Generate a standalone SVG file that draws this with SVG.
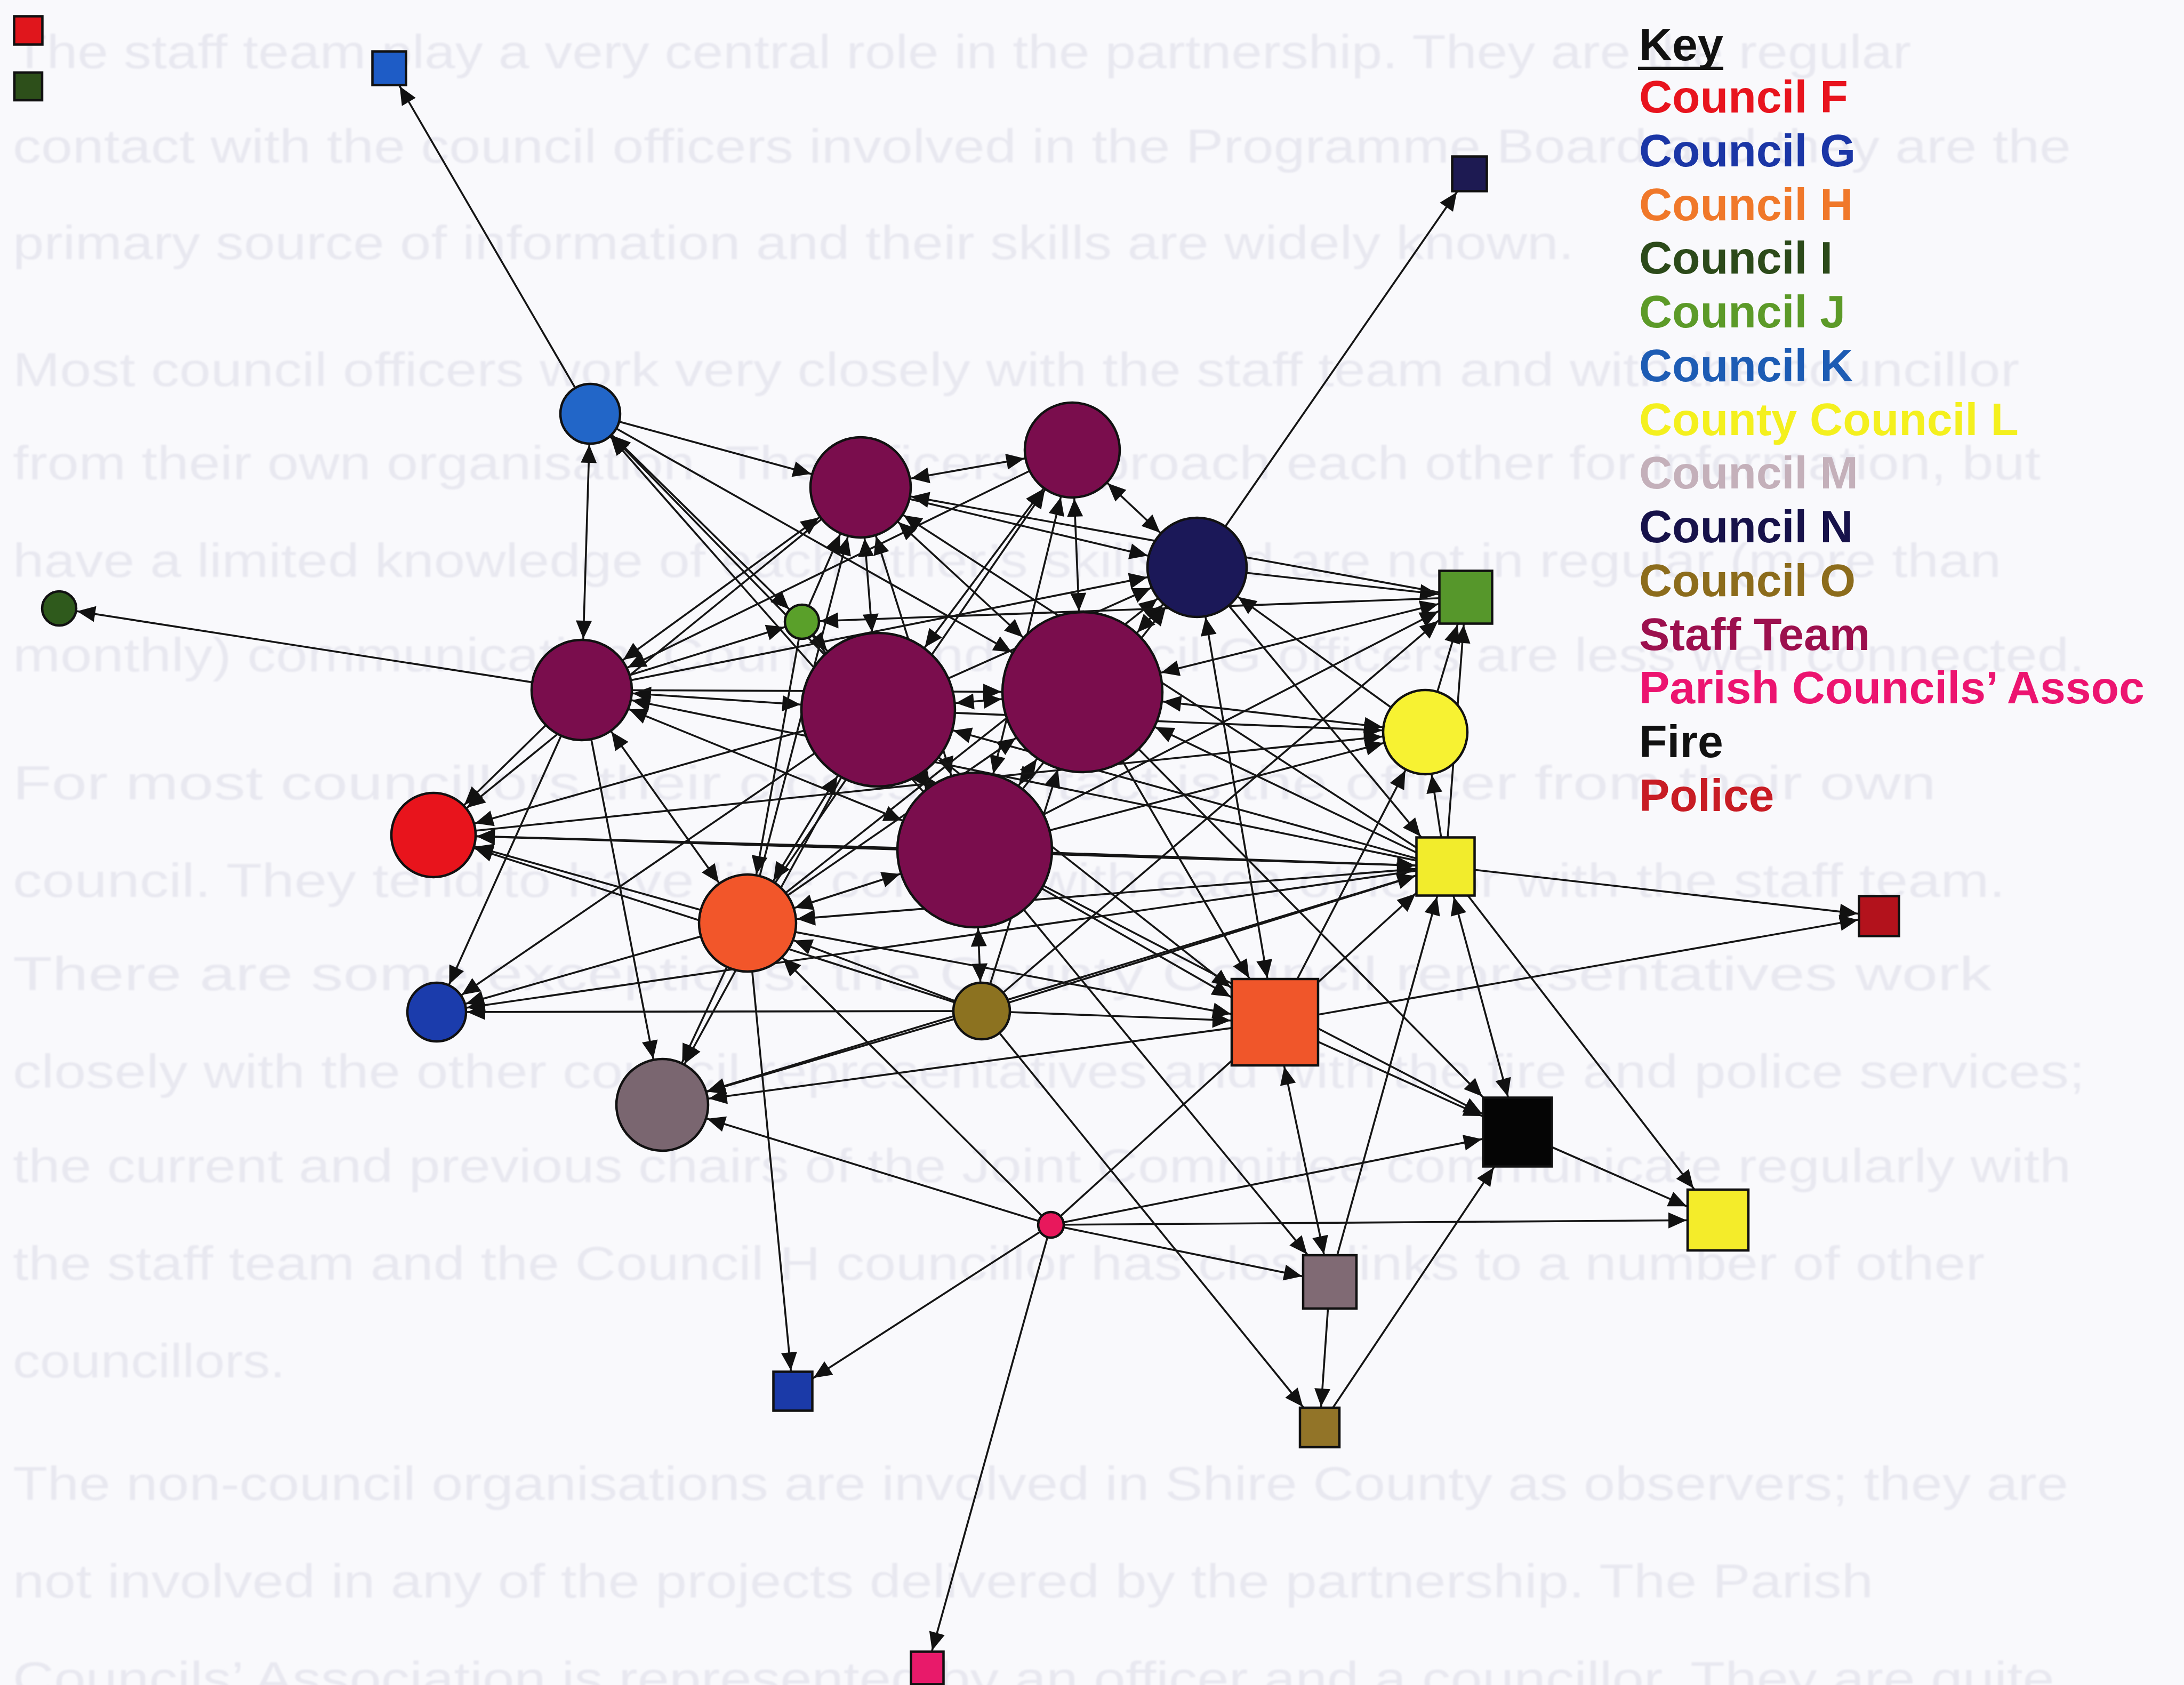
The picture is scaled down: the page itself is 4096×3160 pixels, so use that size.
<svg xmlns="http://www.w3.org/2000/svg" xmlns:xlink="http://www.w3.org/1999/xlink" width="4096" height="3160" viewBox="0 0 4096 3160">
  <style>
    .ghost { font-family: "Liberation Sans", Arial, sans-serif; font-size: 89px; fill: #e8e8f0; }
    .e { stroke: #151515; stroke-width: 3.6; fill: none; }
    .n { stroke: #111; stroke-width: 4.5; }
    .staff { fill: #7a0d4d; }
    .key { font-family: "Liberation Sans", Arial, sans-serif; font-size: 86px; font-weight: bold; }
  </style>
  <defs>
    <filter id="soft" x="-2%" y="-20%" width="104%" height="140%"><feGaussianBlur stdDeviation="1.6"/></filter>
    <path id="ah" d="M0,0 L34,15 L0,30 Z" fill="#111"/>
    <marker id="m34" markerUnits="userSpaceOnUse" markerWidth="34" markerHeight="30" refX="68" refY="15" orient="auto-start-reverse" overflow="visible"><use href="#ah"/></marker>
    <marker id="m39" markerUnits="userSpaceOnUse" markerWidth="34" markerHeight="30" refX="73" refY="15" orient="auto-start-reverse" overflow="visible"><use href="#ah"/></marker>
    <marker id="m40" markerUnits="userSpaceOnUse" markerWidth="34" markerHeight="30" refX="74" refY="15" orient="auto-start-reverse" overflow="visible"><use href="#ah"/></marker>
    <marker id="m42" markerUnits="userSpaceOnUse" markerWidth="34" markerHeight="30" refX="76" refY="15" orient="auto-start-reverse" overflow="visible"><use href="#ah"/></marker>
    <marker id="m46" markerUnits="userSpaceOnUse" markerWidth="34" markerHeight="30" refX="80" refY="15" orient="auto-start-reverse" overflow="visible"><use href="#ah"/></marker>
    <marker id="m50" markerUnits="userSpaceOnUse" markerWidth="34" markerHeight="30" refX="84" refY="15" orient="auto-start-reverse" overflow="visible"><use href="#ah"/></marker>
    <marker id="m52" markerUnits="userSpaceOnUse" markerWidth="34" markerHeight="30" refX="86" refY="15" orient="auto-start-reverse" overflow="visible"><use href="#ah"/></marker>
    <marker id="m53" markerUnits="userSpaceOnUse" markerWidth="34" markerHeight="30" refX="87" refY="15" orient="auto-start-reverse" overflow="visible"><use href="#ah"/></marker>
    <marker id="m54" markerUnits="userSpaceOnUse" markerWidth="34" markerHeight="30" refX="88" refY="15" orient="auto-start-reverse" overflow="visible"><use href="#ah"/></marker>
    <marker id="m55" markerUnits="userSpaceOnUse" markerWidth="34" markerHeight="30" refX="89" refY="15" orient="auto-start-reverse" overflow="visible"><use href="#ah"/></marker>
    <marker id="m57" markerUnits="userSpaceOnUse" markerWidth="34" markerHeight="30" refX="91" refY="15" orient="auto-start-reverse" overflow="visible"><use href="#ah"/></marker>
    <marker id="m58" markerUnits="userSpaceOnUse" markerWidth="34" markerHeight="30" refX="92" refY="15" orient="auto-start-reverse" overflow="visible"><use href="#ah"/></marker>
    <marker id="m59" markerUnits="userSpaceOnUse" markerWidth="34" markerHeight="30" refX="93" refY="15" orient="auto-start-reverse" overflow="visible"><use href="#ah"/></marker>
    <marker id="m64" markerUnits="userSpaceOnUse" markerWidth="34" markerHeight="30" refX="98" refY="15" orient="auto-start-reverse" overflow="visible"><use href="#ah"/></marker>
    <marker id="m67" markerUnits="userSpaceOnUse" markerWidth="34" markerHeight="30" refX="101" refY="15" orient="auto-start-reverse" overflow="visible"><use href="#ah"/></marker>
    <marker id="m68" markerUnits="userSpaceOnUse" markerWidth="34" markerHeight="30" refX="102" refY="15" orient="auto-start-reverse" overflow="visible"><use href="#ah"/></marker>
    <marker id="m69" markerUnits="userSpaceOnUse" markerWidth="34" markerHeight="30" refX="103" refY="15" orient="auto-start-reverse" overflow="visible"><use href="#ah"/></marker>
    <marker id="m73" markerUnits="userSpaceOnUse" markerWidth="34" markerHeight="30" refX="107" refY="15" orient="auto-start-reverse" overflow="visible"><use href="#ah"/></marker>
    <marker id="m75" markerUnits="userSpaceOnUse" markerWidth="34" markerHeight="30" refX="109" refY="15" orient="auto-start-reverse" overflow="visible"><use href="#ah"/></marker>
    <marker id="m76" markerUnits="userSpaceOnUse" markerWidth="34" markerHeight="30" refX="110" refY="15" orient="auto-start-reverse" overflow="visible"><use href="#ah"/></marker>
    <marker id="m80" markerUnits="userSpaceOnUse" markerWidth="34" markerHeight="30" refX="114" refY="15" orient="auto-start-reverse" overflow="visible"><use href="#ah"/></marker>
    <marker id="m81" markerUnits="userSpaceOnUse" markerWidth="34" markerHeight="30" refX="115" refY="15" orient="auto-start-reverse" overflow="visible"><use href="#ah"/></marker>
    <marker id="m83" markerUnits="userSpaceOnUse" markerWidth="34" markerHeight="30" refX="117" refY="15" orient="auto-start-reverse" overflow="visible"><use href="#ah"/></marker>
    <marker id="m84" markerUnits="userSpaceOnUse" markerWidth="34" markerHeight="30" refX="118" refY="15" orient="auto-start-reverse" overflow="visible"><use href="#ah"/></marker>
    <marker id="m85" markerUnits="userSpaceOnUse" markerWidth="34" markerHeight="30" refX="119" refY="15" orient="auto-start-reverse" overflow="visible"><use href="#ah"/></marker>
    <marker id="m88" markerUnits="userSpaceOnUse" markerWidth="34" markerHeight="30" refX="122" refY="15" orient="auto-start-reverse" overflow="visible"><use href="#ah"/></marker>
    <marker id="m91" markerUnits="userSpaceOnUse" markerWidth="34" markerHeight="30" refX="125" refY="15" orient="auto-start-reverse" overflow="visible"><use href="#ah"/></marker>
    <marker id="m93" markerUnits="userSpaceOnUse" markerWidth="34" markerHeight="30" refX="127" refY="15" orient="auto-start-reverse" overflow="visible"><use href="#ah"/></marker>
    <marker id="m94" markerUnits="userSpaceOnUse" markerWidth="34" markerHeight="30" refX="128" refY="15" orient="auto-start-reverse" overflow="visible"><use href="#ah"/></marker>
    <marker id="m95" markerUnits="userSpaceOnUse" markerWidth="34" markerHeight="30" refX="129" refY="15" orient="auto-start-reverse" overflow="visible"><use href="#ah"/></marker>
    <marker id="m96" markerUnits="userSpaceOnUse" markerWidth="34" markerHeight="30" refX="130" refY="15" orient="auto-start-reverse" overflow="visible"><use href="#ah"/></marker>
    <marker id="m106" markerUnits="userSpaceOnUse" markerWidth="34" markerHeight="30" refX="140" refY="15" orient="auto-start-reverse" overflow="visible"><use href="#ah"/></marker>
    <marker id="m146" markerUnits="userSpaceOnUse" markerWidth="34" markerHeight="30" refX="180" refY="15" orient="auto-start-reverse" overflow="visible"><use href="#ah"/></marker>
    <marker id="m147" markerUnits="userSpaceOnUse" markerWidth="34" markerHeight="30" refX="181" refY="15" orient="auto-start-reverse" overflow="visible"><use href="#ah"/></marker>
    <marker id="m152" markerUnits="userSpaceOnUse" markerWidth="34" markerHeight="30" refX="186" refY="15" orient="auto-start-reverse" overflow="visible"><use href="#ah"/></marker>
  </defs>

  <rect width="4096" height="3160" fill="#f9f9fc"/>

  <!-- faint page text behind the network -->
  <g id="page-text" class="ghost" filter="url(#soft)">
    <text x="24" y="128" textLength="3560" lengthAdjust="spacingAndGlyphs">The staff team play a very central role in the partnership. They are the regular</text>
    <text x="24" y="305" textLength="3860" lengthAdjust="spacingAndGlyphs">contact with the council officers involved in the Programme Board and they are the</text>
    <text x="24" y="486" textLength="2928" lengthAdjust="spacingAndGlyphs">primary source of information and their skills are widely known.</text>
    <text x="24" y="724" textLength="3763" lengthAdjust="spacingAndGlyphs">Most council officers work very closely with the staff team and with the councillor</text>
    <text x="24" y="899" textLength="3803" lengthAdjust="spacingAndGlyphs">from their own organisation. The officers approach each other for information, but</text>
    <text x="24" y="1082" textLength="3729" lengthAdjust="spacingAndGlyphs">have a limited knowledge of each other’s skills and are not in regular (more than</text>
    <text x="24" y="1259" textLength="3886" lengthAdjust="spacingAndGlyphs">monthly) communication. Council I and Council G officers are less well connected.</text>
    <text x="24" y="1499" textLength="3607" lengthAdjust="spacingAndGlyphs">For most councillors their closest contact is the officer from their own</text>
    <text x="24" y="1682" textLength="3737" lengthAdjust="spacingAndGlyphs">council. They tend to have little contact with each other or with the staff team.</text>
    <text x="24" y="1857" textLength="3711" lengthAdjust="spacingAndGlyphs">There are some exceptions: the County Council representatives work</text>
    <text x="24" y="2040" textLength="3886" lengthAdjust="spacingAndGlyphs">closely with the other council representatives and with the fire and police services;</text>
    <text x="24" y="2217" textLength="3860" lengthAdjust="spacingAndGlyphs">the current and previous chairs of the Joint Committee communicate regularly with</text>
    <text x="24" y="2400" textLength="3698" lengthAdjust="spacingAndGlyphs">the staff team and the Council H councillor has close links to a number of other</text>
    <text x="24" y="2583" textLength="511" lengthAdjust="spacingAndGlyphs">councillors.</text>
    <text x="24" y="2813" textLength="3855" lengthAdjust="spacingAndGlyphs">The non-council organisations are involved in Shire County as observers; they are</text>
    <text x="24" y="2996" textLength="3489" lengthAdjust="spacingAndGlyphs">not involved in any of the projects delivered by the partnership. The Parish</text>
    <text x="24" y="3179" textLength="3829" lengthAdjust="spacingAndGlyphs">Councils’ Association is represented by an officer and a councillor. They are quite</text>
  </g>

  <!-- directed links; lines run centre to centre, arrowheads are pulled back to each node edge -->
  <g id="connectors" class="e">
    <line x1="1107" y1="776" x2="730" y2="128" marker-end="url(#m39)"/>
    <line x1="2245" y1="1064" x2="2756" y2="326" marker-end="url(#m42)"/>
    <line x1="1091" y1="1294" x2="111" y2="1141" marker-end="url(#m34)"/>
    <line x1="1107" y1="776" x2="1614" y2="914" marker-end="url(#m96)"/>
    <line x1="1107" y1="776" x2="1091" y2="1294" marker-start="url(#m58)" marker-end="url(#m96)"/>
    <line x1="1647" y1="1331" x2="1107" y2="776" marker-end="url(#m58)"/>
    <line x1="1828" y1="1594" x2="1107" y2="776" marker-end="url(#m58)"/>
    <line x1="1107" y1="776" x2="2030" y2="1298" marker-end="url(#m152)"/>
    <line x1="1107" y1="776" x2="1504" y2="1166" marker-start="url(#m58)" marker-end="url(#m34)"/>
    <line x1="1614" y1="914" x2="2011" y2="844" marker-start="url(#m96)" marker-end="url(#m91)"/>
    <line x1="1614" y1="914" x2="1091" y2="1294" marker-start="url(#m96)" marker-end="url(#m96)"/>
    <line x1="1614" y1="914" x2="1647" y2="1331" marker-start="url(#m96)" marker-end="url(#m146)"/>
    <line x1="1614" y1="914" x2="2030" y2="1298" marker-start="url(#m96)" marker-end="url(#m152)"/>
    <line x1="1614" y1="914" x2="1828" y2="1594" marker-start="url(#m96)" marker-end="url(#m147)"/>
    <line x1="2011" y1="844" x2="1647" y2="1331" marker-start="url(#m91)" marker-end="url(#m146)"/>
    <line x1="2011" y1="844" x2="2030" y2="1298" marker-start="url(#m91)" marker-end="url(#m152)"/>
    <line x1="2011" y1="844" x2="1828" y2="1594" marker-start="url(#m91)" marker-end="url(#m147)"/>
    <line x1="2011" y1="844" x2="1091" y2="1294" marker-end="url(#m96)"/>
    <line x1="1091" y1="1294" x2="1647" y2="1331" marker-start="url(#m96)" marker-end="url(#m146)"/>
    <line x1="1091" y1="1294" x2="2030" y2="1298" marker-end="url(#m152)"/>
    <line x1="1091" y1="1294" x2="1828" y2="1594" marker-start="url(#m96)" marker-end="url(#m147)"/>
    <line x1="1647" y1="1331" x2="2030" y2="1298" marker-start="url(#m146)" marker-end="url(#m152)"/>
    <line x1="1647" y1="1331" x2="1828" y2="1594" marker-start="url(#m146)" marker-end="url(#m147)"/>
    <line x1="2030" y1="1298" x2="1828" y2="1594" marker-start="url(#m152)" marker-end="url(#m147)"/>
    <line x1="2245" y1="1064" x2="2011" y2="844" marker-start="url(#m95)" marker-end="url(#m91)"/>
    <line x1="1614" y1="914" x2="2245" y2="1064" marker-end="url(#m95)"/>
    <line x1="2030" y1="1298" x2="2245" y2="1064" marker-start="url(#m152)" marker-end="url(#m95)"/>
    <line x1="1647" y1="1331" x2="2245" y2="1064" marker-end="url(#m95)"/>
    <line x1="1828" y1="1594" x2="2245" y2="1064" marker-end="url(#m95)"/>
    <line x1="1402" y1="1731" x2="2245" y2="1064" marker-end="url(#m95)"/>
    <line x1="1091" y1="1294" x2="2245" y2="1064" marker-end="url(#m95)"/>
    <line x1="2245" y1="1064" x2="2391" y2="1917" marker-start="url(#m95)" marker-end="url(#m84)"/>
    <line x1="2673" y1="1373" x2="2245" y2="1064" marker-end="url(#m95)"/>
    <line x1="2245" y1="1064" x2="2749" y2="1120" marker-end="url(#m52)"/>
    <line x1="2030" y1="1298" x2="2749" y2="1120" marker-start="url(#m152)" marker-end="url(#m53)"/>
    <line x1="1828" y1="1594" x2="2749" y2="1120" marker-end="url(#m58)"/>
    <line x1="1841" y1="1896" x2="2749" y2="1120" marker-end="url(#m68)"/>
    <line x1="2749" y1="1120" x2="1614" y2="914" marker-end="url(#m96)"/>
    <line x1="2749" y1="1120" x2="1504" y2="1166" marker-end="url(#m34)"/>
    <line x1="2673" y1="1373" x2="2749" y2="1120" marker-end="url(#m54)"/>
    <line x1="2711" y1="1625" x2="2749" y2="1120" marker-end="url(#m52)"/>
    <line x1="2711" y1="1625" x2="2673" y2="1373" marker-end="url(#m81)"/>
    <line x1="2391" y1="1917" x2="2673" y2="1373" marker-end="url(#m81)"/>
    <line x1="2030" y1="1298" x2="2673" y2="1373" marker-start="url(#m152)" marker-end="url(#m81)"/>
    <line x1="1647" y1="1331" x2="2673" y2="1373" marker-end="url(#m81)"/>
    <line x1="1828" y1="1594" x2="2673" y2="1373" marker-end="url(#m81)"/>
    <line x1="813" y1="1566" x2="2673" y2="1373" marker-end="url(#m81)"/>
    <line x1="2711" y1="1625" x2="813" y2="1566" marker-end="url(#m81)"/>
    <line x1="2711" y1="1625" x2="3524" y2="1718" marker-end="url(#m40)"/>
    <line x1="2391" y1="1917" x2="3524" y2="1718" marker-end="url(#m40)"/>
    <line x1="2711" y1="1625" x2="2846" y2="2123" marker-start="url(#m59)" marker-end="url(#m69)"/>
    <line x1="2711" y1="1625" x2="3222" y2="2288" marker-end="url(#m75)"/>
    <line x1="2494" y1="2404" x2="2711" y2="1625" marker-end="url(#m59)"/>
    <line x1="2711" y1="1625" x2="2030" y2="1298" marker-end="url(#m152)"/>
    <line x1="2711" y1="1625" x2="1647" y2="1331" marker-end="url(#m146)"/>
    <line x1="2711" y1="1625" x2="1614" y2="914" marker-end="url(#m96)"/>
    <line x1="2711" y1="1625" x2="1091" y2="1294" marker-end="url(#m96)"/>
    <line x1="2711" y1="1625" x2="1402" y2="1731" marker-start="url(#m57)" marker-end="url(#m93)"/>
    <line x1="2711" y1="1625" x2="819" y2="1898" marker-end="url(#m57)"/>
    <line x1="2711" y1="1625" x2="1242" y2="2072" marker-end="url(#m88)"/>
    <line x1="1841" y1="1896" x2="2711" y2="1625" marker-end="url(#m59)"/>
    <line x1="1971" y1="2297" x2="2711" y2="1625" marker-end="url(#m76)"/>
    <line x1="2245" y1="1064" x2="2711" y2="1625" marker-end="url(#m73)"/>
    <line x1="1828" y1="1594" x2="2711" y2="1625" marker-end="url(#m57)"/>
    <line x1="2391" y1="1917" x2="2846" y2="2123" marker-end="url(#m73)"/>
    <line x1="1971" y1="2297" x2="2846" y2="2123" marker-end="url(#m68)"/>
    <line x1="2475" y1="2677" x2="2846" y2="2123" marker-end="url(#m80)"/>
    <line x1="1828" y1="1594" x2="2846" y2="2123" marker-end="url(#m75)"/>
    <line x1="2030" y1="1298" x2="2846" y2="2123" marker-end="url(#m94)"/>
    <line x1="2846" y1="2123" x2="3222" y2="2288" marker-end="url(#m64)"/>
    <line x1="1971" y1="2297" x2="3222" y2="2288" marker-end="url(#m59)"/>
    <line x1="1971" y1="2297" x2="2494" y2="2404" marker-end="url(#m53)"/>
    <line x1="1828" y1="1594" x2="2494" y2="2404" marker-end="url(#m67)"/>
    <line x1="2391" y1="1917" x2="2494" y2="2404" marker-start="url(#m85)" marker-end="url(#m53)"/>
    <line x1="2494" y1="2404" x2="2475" y2="2677" marker-end="url(#m39)"/>
    <line x1="1841" y1="1896" x2="2475" y2="2677" marker-end="url(#m50)"/>
    <line x1="1971" y1="2297" x2="1739" y2="3128" marker-end="url(#m34)"/>
    <line x1="1971" y1="2297" x2="1487" y2="2609" marker-end="url(#m46)"/>
    <line x1="1402" y1="1731" x2="1487" y2="2609" marker-end="url(#m39)"/>
    <line x1="1971" y1="2297" x2="1242" y2="2072" marker-end="url(#m88)"/>
    <line x1="1971" y1="2297" x2="1402" y2="1731" marker-end="url(#m93)"/>
    <line x1="1841" y1="1896" x2="819" y2="1898" marker-end="url(#m57)"/>
    <line x1="1841" y1="1896" x2="2391" y2="1917" marker-end="url(#m83)"/>
    <line x1="1841" y1="1896" x2="1402" y2="1731" marker-end="url(#m93)"/>
    <line x1="1828" y1="1594" x2="1841" y2="1896" marker-start="url(#m147)" marker-end="url(#m55)"/>
    <line x1="1841" y1="1896" x2="1242" y2="2072" marker-end="url(#m88)"/>
    <line x1="1841" y1="1896" x2="2030" y2="1298" marker-end="url(#m152)"/>
    <line x1="1402" y1="1731" x2="813" y2="1566" marker-end="url(#m81)"/>
    <line x1="1841" y1="1896" x2="813" y2="1566" marker-end="url(#m81)"/>
    <line x1="1402" y1="1731" x2="819" y2="1898" marker-end="url(#m57)"/>
    <line x1="1402" y1="1731" x2="1242" y2="2072" marker-end="url(#m88)"/>
    <line x1="1647" y1="1331" x2="1242" y2="2072" marker-end="url(#m88)"/>
    <line x1="1402" y1="1731" x2="1647" y2="1331" marker-start="url(#m93)" marker-end="url(#m146)"/>
    <line x1="1402" y1="1731" x2="1828" y2="1594" marker-start="url(#m93)" marker-end="url(#m147)"/>
    <line x1="1402" y1="1731" x2="1091" y2="1294" marker-start="url(#m93)" marker-end="url(#m96)"/>
    <line x1="1402" y1="1731" x2="1614" y2="914" marker-end="url(#m96)"/>
    <line x1="1402" y1="1731" x2="2011" y2="844" marker-end="url(#m91)"/>
    <line x1="1402" y1="1731" x2="2391" y2="1917" marker-end="url(#m84)"/>
    <line x1="1402" y1="1731" x2="2030" y2="1298" marker-end="url(#m152)"/>
    <line x1="1091" y1="1294" x2="813" y2="1566" marker-end="url(#m81)"/>
    <line x1="1647" y1="1331" x2="813" y2="1566" marker-end="url(#m81)"/>
    <line x1="1828" y1="1594" x2="813" y2="1566" marker-end="url(#m81)"/>
    <line x1="1614" y1="914" x2="813" y2="1566" marker-end="url(#m81)"/>
    <line x1="1091" y1="1294" x2="819" y2="1898" marker-end="url(#m57)"/>
    <line x1="1091" y1="1294" x2="1242" y2="2072" marker-end="url(#m88)"/>
    <line x1="1091" y1="1294" x2="1504" y2="1166" marker-end="url(#m34)"/>
    <line x1="1504" y1="1166" x2="1402" y2="1731" marker-end="url(#m93)"/>
    <line x1="1504" y1="1166" x2="1647" y2="1331" marker-end="url(#m146)"/>
    <line x1="1504" y1="1166" x2="1614" y2="914" marker-end="url(#m96)"/>
    <line x1="1504" y1="1166" x2="1828" y2="1594" marker-end="url(#m147)"/>
    <line x1="2391" y1="1917" x2="1242" y2="2072" marker-end="url(#m88)"/>
    <line x1="1647" y1="1331" x2="819" y2="1898" marker-end="url(#m57)"/>
    <line x1="2030" y1="1298" x2="2391" y2="1917" marker-end="url(#m96)"/>
    <line x1="1647" y1="1331" x2="2391" y2="1917" marker-end="url(#m106)"/>
    <line x1="1828" y1="1594" x2="2391" y2="1917" marker-end="url(#m96)"/>
  </g>

  <!-- organisations: circles and squares -->
  <g id="nodes" class="n">
    <g id="isolate-red"><rect x="26.5" y="30.5" width="53" height="53" fill="#e0161c"/></g>
    <g id="isolate-green"><rect x="27" y="136" width="52" height="52" fill="#2d4f1a"/></g>
    <g id="k-square"><rect x="698.5" y="96.5" width="63" height="63" fill="#1e5cc6"/></g>
    <g id="n-square"><rect x="2723.5" y="293.5" width="65" height="65" fill="#1d1a52"/></g>
    <g id="j-square"><rect x="2699.5" y="1070.5" width="99" height="99" fill="#56972b"/></g>
    <g id="l-square"><rect x="2656.5" y="1570.5" width="109" height="109" fill="#f2ec2c"/></g>
    <g id="h-square"><rect x="2310" y="1836" width="162" height="162" fill="#f0562a"/></g>
    <g id="police"><rect x="3486.5" y="1680.5" width="75" height="75" fill="#b3121c"/></g>
    <g id="fire"><rect x="2781.5" y="2058.5" width="129" height="129" fill="#050505"/></g>
    <g id="l-square-2"><rect x="3165" y="2231" width="114" height="114" fill="#f4ec2a"/></g>
    <g id="m-square"><rect x="2444" y="2354" width="100" height="100" fill="#806a74"/></g>
    <g id="o-square"><rect x="2438" y="2640" width="74" height="74" fill="#927428"/></g>
    <g id="g-square"><rect x="1450.5" y="2572.5" width="73" height="73" fill="#1b3aa8"/></g>
    <g id="parish-square"><rect x="1708.5" y="3097.5" width="61" height="61" fill="#e81a6a"/></g>

    <g id="k-circle"><circle cx="1107" cy="776" r="56" fill="#2266c8"/></g>
    <g id="staff-a"><circle class="staff" cx="1614" cy="914" r="94"/></g>
    <g id="staff-b"><circle class="staff" cx="2011" cy="844" r="89"/></g>
    <g id="n-circle"><circle cx="2245" cy="1064" r="93" fill="#1b1858"/></g>
    <g id="staff-d"><circle class="staff" cx="1091" cy="1294" r="94"/></g>
    <g id="j-circle"><circle cx="1504" cy="1166" r="32" fill="#5aa02a"/></g>
    <g id="staff-e"><circle class="staff" cx="1647" cy="1331" r="144"/></g>
    <g id="staff-c"><circle class="staff" cx="2030" cy="1298" r="150"/></g>
    <g id="staff-f"><circle class="staff" cx="1828" cy="1594" r="145"/></g>
    <g id="l-circle"><circle cx="2673" cy="1373" r="79" fill="#f7f232"/></g>
    <g id="f-circle"><circle cx="813" cy="1566" r="79" fill="#e8141c"/></g>
    <g id="h-circle"><circle cx="1402" cy="1731" r="91" fill="#f2562a"/></g>
    <g id="o-circle"><circle cx="1841" cy="1896" r="53" fill="#8c7220"/></g>
    <g id="g-circle"><circle cx="819" cy="1898" r="55" fill="#1b3cac"/></g>
    <g id="m-circle"><circle cx="1242" cy="2072" r="86" fill="#7a6670"/></g>
    <g id="i-circle"><circle cx="111" cy="1141" r="32" fill="#2f5a1c"/></g>
    <g id="parish-circle"><circle cx="1971" cy="2297" r="24" fill="#e8185c"/></g>
  </g>

  <!-- colour key -->
  <g id="legend" class="key">
    <text x="3074" y="113" fill="#111">Key</text>
    <line x1="3072" y1="128" x2="3232" y2="128" stroke="#111" stroke-width="6"/>
    <text x="3074" y="211" fill="#e8141e">Council F</text>
    <text x="3074" y="312" fill="#1b36a6">Council G</text>
    <text x="3074" y="413" fill="#f0782a">Council H</text>
    <text x="3074" y="513" fill="#2c4a1a">Council I</text>
    <text x="3074" y="614" fill="#5c9a28">Council J</text>
    <text x="3074" y="715" fill="#1d5cb4">Council K</text>
    <text x="3074" y="816" fill="#f4f01e">County Council L</text>
    <text x="3074" y="916" fill="#c4b0ba">Council M</text>
    <text x="3074" y="1017" fill="#17124a">Council N</text>
    <text x="3074" y="1118" fill="#8c6c1c">Council O</text>
    <text x="3074" y="1219" fill="#9c104e">Staff Team</text>
    <text x="3074" y="1319" fill="#ec1470">Parish Councils’ Assoc</text>
    <text x="3074" y="1420" fill="#111">Fire</text>
    <text x="3074" y="1521" fill="#c81c24">Police</text>
  </g>
</svg>
